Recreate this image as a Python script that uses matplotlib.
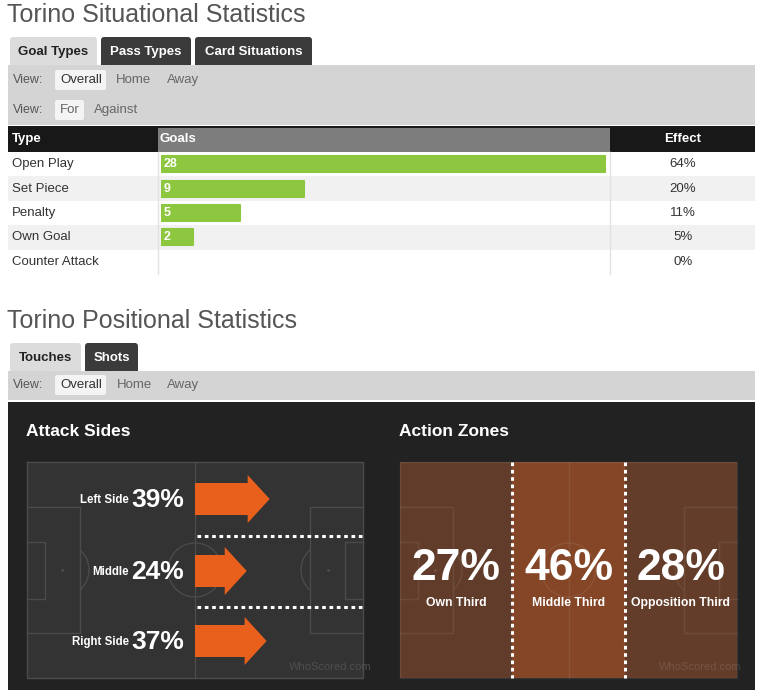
import matplotlib
matplotlib.use("Agg")
import matplotlib.pyplot as plt
from matplotlib.patches import Rectangle, FancyBboxPatch, FancyArrow, Circle, Arc
import matplotlib.colors as mcolors

plt.rcParams['font.family'] = ['Liberation Sans', 'DejaVu Sans']

# data
goal_types = ["Open Play", "Set Piece", "Penalty", "Own Goal", "Counter Attack"]
goals = [28, 9, 5, 2, 0]
effect = ["64%", "20%", "11%", "5%", "0%"]

side_names = ["Left Side", "Middle", "Right Side"]
side_pct = [39, 24, 37]

zone_names = ["Own Third", "Middle Third", "Opposition Third"]
zone_pct = [27, 46, 28]

W, H = 767, 700
fig = plt.figure(figsize=(W / 100, H / 100), dpi=100)
ax = fig.add_axes([0, 0, 1, 1])
ax.set_xlim(0, W)
ax.set_ylim(H, 0)
ax.axis('off')


def rect(x0, y0, x1, y1, color, z=1, **kw):
    ax.add_patch(Rectangle((x0, y0), x1 - x0, y1 - y0, facecolor=color,
                           edgecolor='none', zorder=z, **kw))


def rbox(x0, y0, x1, y1, color, z=2, r=3):
    ax.add_patch(FancyBboxPatch((x0, y0), x1 - x0, y1 - y0,
                                boxstyle="round,pad=0,rounding_size=%d" % r,
                                facecolor=color, edgecolor='none', zorder=z))


def txt(x, y, s, size=9, color='#333333', weight='normal', ha='left', z=5, **kw):
    ax.text(x, y, s, fontsize=size, color=color, fontweight=weight,
            ha=ha, va='center', zorder=z, **kw)


def tabs(y0, y1, items):
    for (x0, x1, label, active) in items:
        # bottom part of the tab is hidden under the grey panel
        rbox(x0, y0, x1, y1 + 6, '#dcdcdc' if active else '#3b3b3b', z=0.5, r=3)
        txt((x0 + x1) / 2, (y0 + y1) / 2 + 1, label, size=9.5, weight='bold',
            color='#222222' if active else 'white', ha='center')


def view_row(y, options, boxes):
    txt(13, y, "View:", size=9, color='#555555')
    for (x, label, active) in options:
        if active:
            rbox(x - 5, y - 10, x + boxes, y + 10, '#f4f4f4', z=3, r=2)
        txt(x, y, label, size=9.5, color='#333333' if active else '#666666')


# ---------- Situational statistics ----------
txt(7, 15, "Torino Situational Statistics", size=18, color='#555555')
tabs(37, 65, [(10, 97, "Goal Types", True), (101, 191, "Pass Types", False),
              (195, 312, "Card Situations", False)])
rect(8, 65, 755, 125, '#d4d4d4')
view_row(80, [(60, "Overall", True), (116, "Home", False), (167, "Away", False)], 46)
view_row(110, [(60, "For", False), (94, "Against", False)], 24)
rbox(55, 100, 84, 120, '#f4f4f4', z=3, r=2)

# header
rect(8, 126, 755, 152, '#181818')
rect(158, 128, 610, 152, '#7d7d7d', z=2)
txt(12, 139, "Type", size=9.5, weight='bold', color='white')
txt(160, 139, "Goals", size=9.5, weight='bold', color='white')
txt(683, 139, "Effect", size=9.5, weight='bold', color='white', ha='center')

row_top = 152
row_h = 24.4
for i, name in enumerate(goal_types):
    y0 = row_top + i * row_h
    rect(8, y0, 755, y0 + row_h, '#f1f1f1' if i % 2 else 'white', z=1)
    txt(12, y0 + row_h / 2, name, size=9.5, color='#333333')
    txt(683, y0 + row_h / 2, effect[i], size=9.5, color='#333333', ha='center')
ax.plot([158, 158], [152, 274], color='#e2e2e2', lw=1, zorder=2)
ax.plot([610, 610], [152, 274], color='#e2e2e2', lw=1, zorder=2)

# goals bar chart in its own axes
bx = fig.add_axes([161 / W, 1 - 274 / H, 445 / W, (274 - 152) / H])
bx.patch.set_alpha(0)
bx.barh(range(len(goals)), goals, height=0.66, color='#8dc63f',
        edgecolor='#8dc63f', linewidth=[1.5 if g else 0 for g in goals],
        joinstyle='round')
bx.set_xlim(0, max(goals))
bx.set_ylim(len(goals) - 0.5, -0.5)
bx.axis('off')
for i, g in enumerate(goals):
    bx.text(0.15, i, str(g), color='white', fontsize=9, fontweight='bold',
            va='center', ha='left')

# ---------- Positional statistics ----------
txt(7, 321, "Torino Positional Statistics", size=18, color='#555555')
tabs(343, 371, [(10, 81, "Touches", True), (85, 138, "Shots", False)])
rect(8, 371, 755, 400, '#d4d4d4')
view_row(385, [(60, "Overall", True), (117, "Home", False), (167, "Away", False)], 46)

rect(8, 402, 755, 690, '#222222')
txt(26, 432, "Attack Sides", size=12.5, weight='bold', color='white')
txt(399, 432, "Action Zones", size=12.5, weight='bold', color='white')


def pitch(x0, x1, y0, y1, lc, lw=1, z=3):
    kw = dict(color=lc, lw=lw, zorder=z)
    mx, my = (x0 + x1) / 2, (y0 + y1) / 2
    ax.plot([x0, x1, x1, x0, x0], [y0, y0, y1, y1, y0], **kw)
    ax.plot([mx, mx], [y0, y1], **kw)
    ax.add_patch(Circle((mx, my), 27, fill=False, edgecolor=lc, lw=lw, zorder=z))
    for side in (1, -1):
        bx0 = x0 if side == 1 else x1
        pb = bx0 + side * 53
        sb = bx0 + side * 18
        ax.plot([bx0, pb, pb, bx0], [507, 507, 633, 633], **kw)
        ax.plot([bx0, sb, sb, bx0], [542, 542, 599, 599], **kw)
        spot = bx0 + side * 35
        ax.plot([spot], [my], marker='o', ms=1.2, color=lc, zorder=z)
        if side == 1:
            ax.add_patch(Arc((spot, my), 54, 54, theta1=-48, theta2=48,
                             edgecolor=lc, lw=lw, zorder=z))
        else:
            ax.add_patch(Arc((spot, my), 54, 54, theta1=132, theta2=228,
                             edgecolor=lc, lw=lw, zorder=z))


# attack sides pitch
px0, px1, py0, py1 = 27, 363, 462, 678
rect(px0, py0, px1, py1, '#333333', z=2)
pitch(px0, px1, py0, py1, '#4b4b4b')
half = (px0 + px1) / 2
for yy in (536, 607):
    ax.plot([half + 2, px1], [yy, yy], color='white', lw=2.2,
            linestyle=(0, (1.2, 1.2)), zorder=4)

side_y = [499, 571, 641]
for name, v, yc in zip(side_names, side_pct, side_y):
    length = 15 + 1.53 * v
    ax.add_patch(FancyArrow(half, yc, length, 0, width=32, head_width=48,
                            head_length=22, length_includes_head=True,
                            facecolor='#e8601c', edgecolor='none', zorder=5))
    txt(129, yc + 1, name, size=8.3, weight='bold', color='white', ha='right')
    txt(131, yc + 1, "%d%%" % v, size=19, weight='bold', color='white')
txt(330, 667, "WhoScored.com", size=8, color='#4e4e4e', ha='center')

# action zones pitch
zx0, zx1 = 400, 737
base = mcolors.to_rgb('#2f2f2f')
orange = mcolors.to_rgb('#e8601c')
zw = (zx1 - zx0) / 3
for k, (name, v) in enumerate(zip(zone_names, zone_pct)):
    a = v / 100
    col = tuple(b + a * (o - b) for b, o in zip(base, orange))
    x0 = zx0 + k * zw
    rect(x0, py0, x0 + zw, py1, col, z=2)
    txt(x0 + zw / 2, 569, "%d%%" % v, size=32, weight='bold', color='white', ha='center')
    txt(x0 + zw / 2, 603, name, size=8.8, weight='bold', color='white', ha='center')
pitch(zx0, zx1, py0, py1, (1, 1, 1, 0.08))
for k in (1, 2):
    xx = zx0 + k * zw
    ax.plot([xx, xx], [py0, py1], color='white', lw=2.2,
            linestyle=(0, (1.2, 1.2)), zorder=4)
txt(700, 667, "WhoScored.com", size=8, color=(1, 1, 1, 0.12), ha='center')

fig.savefig("out.png", dpi=100)
